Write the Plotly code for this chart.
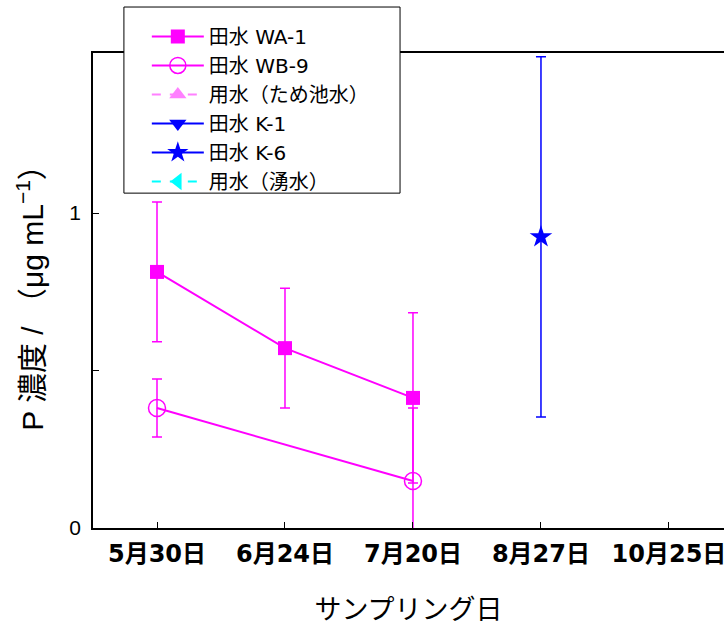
import plotly.graph_objects as go

dates = ["5月30日", "6月24日", "7月20日", "8月27日", "10月25日"]

wa1_x = ["5月30日", "6月24日", "7月20日"]
wa1_y = [0.813, 0.571, 0.413]
wa1_err = [0.222, 0.190, 0.270]

wb9_x = ["5月30日", "7月20日"]
wb9_y = [0.381, 0.149]
wb9_err = [0.092, 0.232]

# series with no measured values (shown in legend only)
tame_x = [None]
tame_y = [None]

k1_x = [None]
k1_y = [None]

k6_x = ["8月27日"]
k6_y = [0.924]
k6_err = [0.572]

yusui_x = [None]
yusui_y = [None]

y_ticks = [0, 1]
y_minor_ticks = [0.5]

JP = "DejaVu Sans, Noto Sans CJK JP"
LAT = "Liberation Sans, Arial, Noto Sans CJK JP"

fig = go.Figure()

fig.add_trace(go.Scatter(
    x=wa1_x, y=wa1_y, name="田水 WA-1", mode="lines+markers",
    line=dict(color="#FF00FF", width=2),
    marker=dict(symbol="square", size=14, color="#FF00FF"),
    error_y=dict(type="data", array=wa1_err, color="#FF00FF", thickness=1.5, width=5),
))
fig.add_trace(go.Scatter(
    x=wb9_x, y=wb9_y, name="田水 WB-9", mode="lines+markers",
    line=dict(color="#FF00FF", width=2),
    marker=dict(symbol="circle-open", size=17, color="#FF00FF", line=dict(width=1.5)),
    error_y=dict(type="data", array=wb9_err, color="#FF00FF", thickness=1.5, width=5),
))
fig.add_trace(go.Scatter(
    x=tame_x, y=tame_y, name="用水（ため池水）", mode="lines+markers",
    line=dict(color="#FF80FF", width=2, dash="dash"),
    marker=dict(symbol="triangle-up", size=15, color="#FF80FF"),
))
fig.add_trace(go.Scatter(
    x=k1_x, y=k1_y, name="田水 K-1", mode="lines+markers",
    line=dict(color="#0000FF", width=2),
    marker=dict(symbol="triangle-down", size=15, color="#0000FF"),
))
fig.add_trace(go.Scatter(
    x=k6_x, y=k6_y, name="田水 K-6", mode="lines+markers",
    line=dict(color="#0000FF", width=2),
    marker=dict(symbol="star", size=17, color="#0000FF"),
    error_y=dict(type="data", array=k6_err, color="#0000FF", thickness=1.5, width=5),
))
fig.add_trace(go.Scatter(
    x=yusui_x, y=yusui_y, name="用水（湧水）", mode="lines+markers",
    line=dict(color="#00FFFF", width=2, dash="dash"),
    marker=dict(symbol="triangle-left", size=15, color="#00FFFF"),
))

# legend frame (drawn as a box behind the legend entries)
fig.add_shape(
    type="rect", xref="paper", yref="paper",
    x0=0.049, x1=0.4866, y0=0.705, y1=1.0968,
    line=dict(color="black", width=1), fillcolor="white", layer="above",
)

fig.update_layout(
    width=726, height=628,
    margin=dict(l=93, r=0, t=53, b=100),
    paper_bgcolor="white", plot_bgcolor="white",
    showlegend=True,
    legend=dict(
        x=0.0853, y=1.0758, xanchor="left", yanchor="top",
        bgcolor="rgba(0,0,0,0)", borderwidth=0,
        font=dict(family=JP, size=20, color="black"),
        tracegroupgap=0, itemwidth=52,
    ),
    xaxis=dict(
        type="category", categoryorder="array", categoryarray=dates,
        range=[-0.5, 4.43],
        showline=True, linecolor="black", linewidth=1.8, mirror=True,
        ticks="inside", ticklen=6, tickcolor="black",
        showgrid=False, zeroline=False,
        ticklabelstandoff=3,
        tickfont=dict(family=JP, size=24, color="black", weight="bold"),
        title=dict(text="サンプリング日", font=dict(family="Noto Sans CJK JP", size=27, color="black"), standoff=33),
    ),
    yaxis=dict(
        range=[0, 1.508],
        tickvals=y_ticks, ticktext=[str(v) for v in y_ticks],
        minor=dict(tickvals=y_minor_ticks, ticks="inside", ticklen=6, tickcolor="black", showgrid=False),
        showline=True, linecolor="black", linewidth=1.8, mirror=False,
        ticks="inside", ticklen=6, tickcolor="black",
        showgrid=False, zeroline=False,
        ticklabelstandoff=6,
        tickfont=dict(family=LAT, size=21, color="black"),
        title=dict(text="P 濃度 / （μg mL<sup>−1</sup>）", font=dict(family=LAT, size=30, color="black"), standoff=17),
    ),
)

fig.write_html("out.html")
